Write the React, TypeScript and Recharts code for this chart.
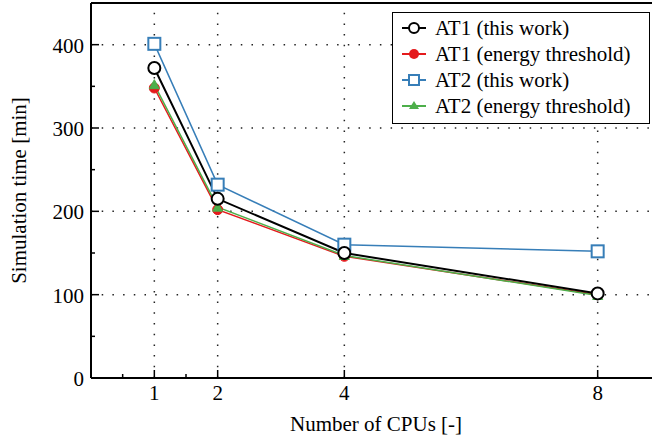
import { Legend, Line, LineChart, ReferenceLine, XAxis, YAxis } from "recharts";

const cpus = [1, 2, 4, 8];
const at1This = [372, 215, 150, 101.5];
const at1Energy = [348, 202, 146, 100];
const at2This = [401, 232, 160, 152];
const at2Energy = [352, 205, 147, 99];

const xTicks = [0.5, 1, 1.5, 2, 4, 8];
const yTicks = [0, 50, 100, 150, 200, 250, 300, 350, 400];
const gridX = [1, 2, 4, 8];
const gridY = [100, 200, 300, 400];

const data = cpus.map((c, i) => ({
  cpus: c,
  at1This: at1This[i],
  at1Energy: at1Energy[i],
  at2This: at2This[i],
  at2Energy: at2Energy[i],
}));

const RED = "#e41a1c";
const BLUE = "#377eb8";
const GREEN = "#4daf4a";
const FONT = "'Liberation Serif', 'DejaVu Serif', serif";

function YTick(props: any) {
  const { x, y, payload } = props;
  const v = payload.value;
  const major = v % 100 === 0;
  const ax = x + 7;
  return (
    <g>
      {v !== 0 && <line x1={ax} x2={ax + (major ? 8 : 4)} y1={y} y2={y} stroke="#000" strokeWidth={1.5} />}
      {major && (
        <text x={x} y={y + 8} textAnchor="end" fontSize={21} fontFamily={FONT} fill="#000">
          {v}
        </text>
      )}
    </g>
  );
}

function XTick(props: any) {
  const { x, y, payload } = props;
  const v = payload.value;
  const major = Number.isInteger(v);
  const ay = y - 22;
  return (
    <g>
      <line x1={x} x2={x} y1={ay} y2={ay - (major ? 8 : 4)} stroke="#000" strokeWidth={1.5} />
      {major && (
        <text x={x} y={y} textAnchor="middle" fontSize={21} fontFamily={FONT} fill="#000">
          {v}
        </text>
      )}
    </g>
  );
}

function Square(props: any) {
  const { cx, cy } = props;
  if (cx == null || cy == null) return null;
  return <rect x={cx - 6} y={cy - 6} width={12} height={12} fill="#fff" stroke={BLUE} strokeWidth={2} />;
}

function Triangle(props: any) {
  const { cx, cy } = props;
  if (cx == null || cy == null) return null;
  return <polygon points={`${cx},${cy - 5} ${cx - 5},${cy + 4} ${cx + 5},${cy + 4}`} fill={GREEN} stroke={GREEN} />;
}

const legendItems = [
  { label: "AT1 (this work)", color: "#000", shape: "open-circle" },
  { label: "AT1 (energy threshold)", color: RED, shape: "circle" },
  { label: "AT2 (this work)", color: BLUE, shape: "square" },
  { label: "AT2 (energy threshold)", color: GREEN, shape: "triangle" },
];

function LegendIcon({ color, shape }: { color: string; shape: string }) {
  return (
    <svg width={26} height={14} style={{ display: "block" }}>
      <line x1={1} x2={25} y1={7} y2={7} stroke={color} strokeWidth={2} />
      {shape === "open-circle" && <circle cx={13} cy={7} r={5} fill="#fff" stroke={color} strokeWidth={2} />}
      {shape === "circle" && <circle cx={13} cy={7} r={5} fill={color} />}
      {shape === "square" && <rect x={8} y={2} width={10} height={10} fill="#fff" stroke={color} strokeWidth={2} />}
      {shape === "triangle" && <polygon points="13,2 8,10 18,10" fill={color} />}
    </svg>
  );
}

function LegendBox() {
  return (
    <div
      style={{
        border: "1.5px solid #000",
        background: "#fff",
        padding: "2px 6px 4px 8px",
        fontFamily: FONT,
        fontSize: 21,
        lineHeight: "26px",
        color: "#000",
        boxSizing: "border-box",
        width: 258,
      }}
    >
      {legendItems.map((it) => (
        <div key={it.label} style={{ display: "flex", alignItems: "center", gap: 8 }}>
          <LegendIcon color={it.color} shape={it.shape} />
          <span>{it.label}</span>
        </div>
      ))}
    </div>
  );
}

export default function App() {
  return (
    <div style={{ position: "absolute", left: 0, top: 0, width: 652, height: 440, overflow: "hidden", background: "#fff" }}>
      <LineChart width={662} height={440} data={data} margin={{ top: 3, right: 1, left: 0, bottom: 0 }}>
        {gridX.map((g) => (
          <ReferenceLine key={`gx${g}`} x={g} stroke="#222" strokeWidth={1.5} strokeDasharray="1.5 9.2" />
        ))}
        {gridY.map((g) => (
          <ReferenceLine key={`gy${g}`} y={g} stroke="#222" strokeWidth={1.5} strokeDasharray="1.5 9.2" />
        ))}
        <ReferenceLine y={450} stroke="#000" strokeWidth={2} />
        <XAxis
          type="number"
          dataKey="cpus"
          domain={[0, 9]}
          ticks={xTicks}
          interval={0}
          tickSize={0}
          tickMargin={22}
          tick={<XTick />}
          height={62}
          axisLine={{ stroke: "#000", strokeWidth: 2 }}
          label={{
            value: "Number of CPUs [-]",
            position: "insideBottom",
            offset: 9,
            fontSize: 21,
            fontFamily: FONT,
            fill: "#000",
          }}
        />
        <YAxis
          type="number"
          domain={[0, 450]}
          ticks={yTicks}
          interval={0}
          tickSize={0}
          tickMargin={7}
          tick={<YTick />}
          width={91}
          axisLine={{ stroke: "#000", strokeWidth: 2 }}
          label={{
            value: "Simulation time [min]",
            angle: -90,
            position: "insideLeft",
            offset: 19,
            style: { textAnchor: "middle" },
            fontSize: 21,
            fontFamily: FONT,
            fill: "#000",
          }}
        />
        <Legend
          layout="vertical"
          align="center"
          verticalAlign="middle"
          wrapperStyle={{ top: 12, left: 392, width: 258 }}
          content={() => <LegendBox />}
        />
        <Line
          dataKey="at1Energy"
          stroke={RED}
          strokeWidth={1.5}
          dot={{ r: 5, fill: RED, stroke: RED, strokeWidth: 1 }}
          isAnimationActive={false}
        />
        <Line dataKey="at2Energy" stroke={GREEN} strokeWidth={1.5} dot={<Triangle />} isAnimationActive={false} />
        <Line dataKey="at2This" stroke={BLUE} strokeWidth={1.5} dot={<Square />} isAnimationActive={false} />
        <Line
          dataKey="at1This"
          stroke="#000"
          strokeWidth={2}
          dot={{ r: 6, fill: "#fff", stroke: "#000", strokeWidth: 2 }}
          isAnimationActive={false}
        />
      </LineChart>
    </div>
  );
}
